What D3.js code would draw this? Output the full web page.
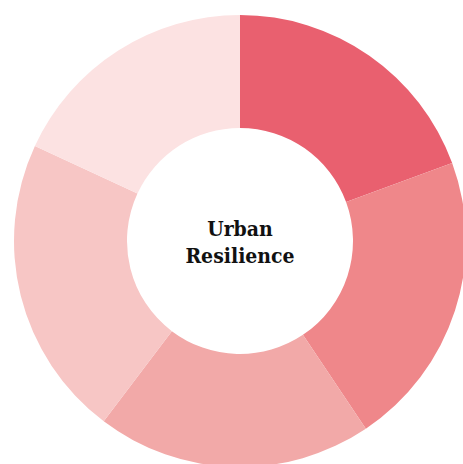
<!DOCTYPE html>
<html>
<head>
<meta charset="utf-8">
<script src="https://cdn.jsdelivr.net/npm/d3@7"></script>
<style>
  html, body { margin: 0; padding: 0; background: #fff; overflow: hidden; }
</style>
</head>
<body>
<div id="chart"></div>
<script>
// slice data, clockwise from 12 o'clock
var categories = ["A", "B", "C", "D", "E"];
var values = [19.4, 21.2, 19.7, 21.6, 18.1];
var colors = ["#e9606f", "#ef878a", "#f2a9a8", "#f7c6c5", "#fce2e2"];
var titleLines = ["Urban", "Resilience"];

var width = 463, height = 464;
var cx = 240, cy = 241;
var outerR = 226, innerR = 113;

var svg = d3.select("#chart").append("svg")
    .attr("width", width)
    .attr("height", height);

var g = svg.append("g")
    .attr("transform", "translate(" + cx + "," + cy + ")");

var pie = d3.pie()
    .sort(null)
    .value(function(d) { return d; });

var arc = d3.arc()
    .innerRadius(innerR)
    .outerRadius(outerR);

var color = d3.scaleOrdinal()
    .domain(categories)
    .range(colors);

g.selectAll("path")
  .data(pie(values))
  .enter().append("path")
    .attr("d", arc)
    .attr("fill", function(d, i) { return color(categories[i]); });

var label = g.append("text")
    .attr("text-anchor", "middle")
    .attr("font-family", "'DejaVu Serif Condensed', 'DejaVu Serif', serif")
    .attr("font-stretch", "condensed")
    .attr("font-weight", "bold")
    .attr("font-size", 21)
    .attr("fill", "#111");

label.selectAll("tspan")
  .data(titleLines)
  .enter().append("tspan")
    .attr("x", 0)
    .attr("y", function(d, i) { return -5 + i * 27; })
    .text(function(d) { return d; });
</script>
</body>
</html>
